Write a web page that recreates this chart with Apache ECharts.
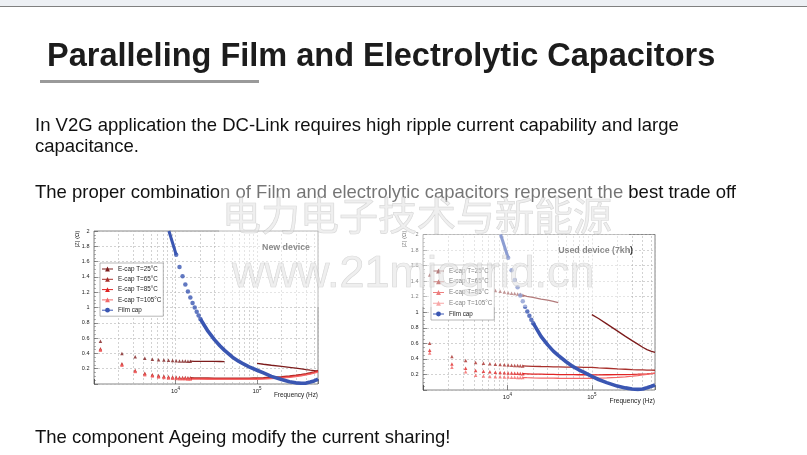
<!DOCTYPE html>
<html>
<head>
<meta charset="utf-8">
<script src="https://cdn.jsdelivr.net/npm/echarts/dist/echarts.min.js"></script>
<style>
html, body { margin: 0; padding: 0; background: #fff; }
#chart { width: 807px; height: 455px; }
</style>
</head>
<body>
<div id="chart"></div>
<script>
// frequencies in Hz
var freqLow = [1200, 2200, 3200, 4200, 5200, 6200, 7200, 8200, 9200, 10200, 11200, 12200, 13200, 14200, 15200];
var freqDense = [15200, 17000, 20000, 25000, 30000, 35000, 40000, 50000, 60000, 70000, 80000, 90000,
                 100000, 120000, 150000, 200000, 250000, 300000, 350000, 400000, 450000, 500000, 560000];
var filmTopF = [8300, 10200];
var filmDotsF = [10200, 11200, 12200, 13200, 14200, 15200, 16200, 17200, 18200, 19200, 20200];
var filmLineF = [20200, 25000, 30000, 35000, 40000, 50000, 60000, 70000, 80000, 100000, 120000, 150000,
                 200000, 250000, 300000, 350000, 400000, 450000, 500000, 560000];

// New device |Z| (ohm)
var new25Low = [0.56, 0.40, 0.355, 0.335, 0.325, 0.318, 0.313, 0.309, 0.306, 0.304, 0.302, 0.30, 0.30, 0.299, 0.298];
var new25Dense = [0.298, 0.297, 0.296, 0.295, 0.295, 0.294, 0.293, null, null, null, null, null,
                  0.27, 0.258, 0.245, 0.23, 0.218, 0.207, 0.197, 0.188, 0.181, 0.175, 0.168];
var new65Low = [0.46, 0.265, 0.178, 0.142, 0.122, 0.11, 0.10, 0.095, 0.09, 0.088, 0.086, 0.085, 0.084, 0.083, 0.082];
var new65Dense = [0.082, 0.081, 0.08, 0.079, 0.078, 0.078, 0.077, 0.077, 0.077, 0.077, 0.078, 0.079,
                  0.08, 0.083, 0.088, 0.097, 0.105, 0.115, 0.125, 0.135, 0.148, 0.16, 0.178];
var new85Low = [0.45, 0.255, 0.17, 0.132, 0.113, 0.10, 0.092, 0.086, 0.082, 0.079, 0.077, 0.075, 0.074, 0.073, 0.072];
var new85Dense = [0.072, 0.071, 0.07, 0.069, 0.068, 0.068, 0.067, 0.067, 0.067, 0.067, 0.067, 0.068,
                  0.07, 0.073, 0.078, 0.086, 0.095, 0.105, 0.115, 0.125, 0.137, 0.15, 0.165];
var new105Low = [0.44, 0.245, 0.162, 0.122, 0.103, 0.092, 0.084, 0.079, 0.075, 0.072, 0.07, 0.068, 0.067, 0.066, 0.065];
var new105Dense = [0.065, 0.064, 0.063, 0.062, 0.061, 0.061, 0.06, 0.06, 0.06, 0.06, 0.06, 0.061,
                   0.062, 0.065, 0.07, 0.078, 0.087, 0.097, 0.108, 0.118, 0.13, 0.143, 0.155];
var newFilmTop = [2.0, 1.69];
var newFilmDots = [1.69, 1.53, 1.41, 1.30, 1.21, 1.13, 1.06, 1.00, 0.945, 0.895, 0.85];
var newFilmLine = [0.85, 0.69, 0.58, 0.50, 0.44, 0.35, 0.295, 0.255, 0.225, 0.18, 0.145, 0.10,
                   0.058, 0.03, 0.015, 0.01, 0.012, 0.025, 0.04, 0.062];

// Used device (7kh) |Z| (ohm)
var used25Low = [1.48, 1.38, 1.34, 1.315, 1.30, 1.29, 1.28, 1.27, 1.26, 1.25, 1.245, 1.24, 1.235, 1.23, 1.22];
var used25Dense = [1.22, 1.205, 1.19, 1.17, 1.155, 1.14, 1.125, null, null, null, null, null,
                   0.97, 0.92, 0.85, 0.76, 0.69, 0.635, 0.59, 0.55, 0.52, 0.50, 0.485];
var used65Low = [0.60, 0.43, 0.38, 0.354, 0.345, 0.337, 0.332, 0.328, 0.324, 0.32, 0.318, 0.316, 0.314, 0.312, 0.31];
var used65Dense = [0.31, 0.308, 0.305, 0.302, 0.30, 0.298, 0.297, 0.295, 0.294, 0.293, 0.292, 0.291,
                   0.29, 0.285, 0.28, 0.272, 0.267, 0.263, 0.26, 0.258, 0.256, 0.255, 0.254];
var used85Low = [0.51, 0.336, 0.28, 0.25, 0.24, 0.234, 0.229, 0.225, 0.222, 0.22, 0.218, 0.216, 0.214, 0.212, 0.21];
var used85Dense = [0.21, 0.208, 0.205, 0.203, 0.201, 0.2, 0.199, 0.198, 0.197, 0.196, 0.196, 0.195,
                   0.195, 0.195, 0.196, 0.197, 0.199, 0.201, 0.203, 0.205, 0.207, 0.21, 0.213];
var used105Low = [0.476, 0.294, 0.234, 0.19, 0.18, 0.175, 0.172, 0.17, 0.168, 0.166, 0.164, 0.163, 0.162, 0.161, 0.16];
var used105Dense = [0.16, 0.158, 0.156, 0.154, 0.153, 0.152, 0.151, 0.15, 0.15, 0.15, 0.15, 0.15,
                    0.15, 0.152, 0.155, 0.162, 0.17, 0.178, 0.186, 0.194, 0.202, 0.21, 0.218];
var usedFilmTop = [2.0, 1.70];
var usedFilmDots = [1.70, 1.54, 1.415, 1.32, 1.215, 1.14, 1.07, 1.01, 0.955, 0.905, 0.86];
var usedFilmLine = [0.86, 0.69, 0.58, 0.50, 0.445, 0.36, 0.30, 0.26, 0.23, 0.175, 0.135, 0.095,
                    0.05, 0.027, 0.013, 0.008, 0.012, 0.028, 0.045, 0.065];

var seriesNames = ['E-cap T=25°C', 'E-cap T=65°C', 'E-cap T=85°C', 'E-cap T=105°C', 'Film cap'];
var seriesColors = ['#7d1c1c', '#a8302c', '#e02424', '#f26868', '#3a56b2'];

// axis ticks
var xTickValues = [10000, 100000];
var xTickExp = ['4', '5'];
var minorGrid = [2000, 3000, 4000, 5000, 6000, 7000, 8000, 9000,
                 20000, 30000, 40000, 50000, 60000, 70000, 80000, 90000,
                 200000, 300000, 400000, 500000];

function pairs(xs, ys) {
    return xs.map(function (x, i) { return [x, ys[i] == null ? '-' : ys[i]]; });
}

function chartSeries(g, ecaps, filmTop, filmDots, filmLine) {
    var out = [];
    ecaps.forEach(function (e, i) {
        out.push({
            name: seriesNames[i], type: 'line', xAxisIndex: g, yAxisIndex: g,
            data: pairs(freqDense, e[1]), symbol: 'triangle', symbolSize: 3.5, showSymbol: false,
            lineStyle: { color: seriesColors[i], width: 1.3 }, itemStyle: { color: seriesColors[i] }, z: 3
        });
        out.push({
            name: seriesNames[i], type: 'scatter', xAxisIndex: g, yAxisIndex: g,
            data: pairs(freqLow, e[0]), symbol: 'triangle', symbolSize: 3.5,
            itemStyle: { color: seriesColors[i] }, z: 3
        });
    });
    out.push({
        name: 'Film cap', type: 'line', xAxisIndex: g, yAxisIndex: g,
        data: pairs(filmLineF, filmLine), symbol: 'circle', symbolSize: 4, showSymbol: false,
        lineStyle: { color: seriesColors[4], width: 3.6 }, itemStyle: { color: seriesColors[4] }, z: 4,
        markLine: {
            silent: true, symbol: ['none', 'none'], label: { show: false }, animation: false, z: 1,
            lineStyle: { color: '#b4b4b4', width: 0.6, type: [2, 2] },
            data: minorGrid.map(function (v) { return { xAxis: v }; })
        }
    });
    out.push({
        name: 'Film cap', type: 'line', xAxisIndex: g, yAxisIndex: g,
        data: pairs(filmTopF, filmTop), showSymbol: false,
        lineStyle: { color: seriesColors[4], width: 3 }, itemStyle: { color: seriesColors[4] }, z: 4
    });
    out.push({
        name: 'Film cap', type: 'scatter', xAxisIndex: g, yAxisIndex: g,
        data: pairs(filmDotsF, filmDots), symbol: 'circle', symbolSize: 4.5,
        itemStyle: { color: seriesColors[4] }, z: 4
    });
    return out;
}

var series = chartSeries(0, [[new25Low, new25Dense], [new65Low, new65Dense], [new85Low, new85Dense], [new105Low, new105Dense]],
                         newFilmTop, newFilmDots, newFilmLine)
    .concat(chartSeries(1, [[used25Low, used25Dense], [used65Low, used65Dense], [used85Low, used85Dense], [used105Low, used105Dense]],
                        usedFilmTop, usedFilmDots, usedFilmLine));

function xLabel(v) {
    for (var i = 0; i < xTickValues.length; i++) {
        if (Math.abs(v / xTickValues[i] - 1) < 1e-6) return '{b|10}{s|' + xTickExp[i] + '}';
    }
    return '';
}

function makeX(g) {
    return {
        type: 'log', logBase: 10, gridIndex: g, min: 1000, max: 560000,
        axisLine: { show: false },
        axisTick: { inside: true, length: 5, lineStyle: { color: '#444', width: 0.6 } },
        axisLabel: {
            margin: 2, color: '#222', formatter: xLabel,
            rich: {
                b: { fontSize: 6, lineHeight: 8, verticalAlign: 'bottom', color: '#222' },
                s: { fontSize: 4.5, lineHeight: 5, verticalAlign: 'top', color: '#222' }
            }
        },
        splitLine: { show: true, lineStyle: { color: '#b4b4b4', width: 0.6, type: [2, 2] } }
    };
}

function makeY(g) {
    return {
        type: 'value', gridIndex: g, min: 0, max: 2, interval: 0.2,
        axisLine: { show: false },
        axisTick: { inside: true, length: 4, lineStyle: { color: '#444', width: 0.6 } },
        minorTick: { show: true, splitNumber: 4, length: 2, lineStyle: { color: '#666', width: 0.5 } },
        axisLabel: {
            fontSize: 5.5, color: '#222', margin: 4.5,
            formatter: function (v) { return v === 0 ? '' : String(+v.toFixed(1)); }
        },
        splitLine: { show: true, lineStyle: { color: '#b4b4b4', width: 0.6, type: [2, 2] } }
    };
}

function makeLegend(left, top, gap) {
    return {
        data: seriesNames, orient: 'vertical', left: left, top: top,
        itemWidth: 11, itemHeight: 6, itemGap: gap, itemTextGap: 4,
        padding: [3, 2, 3, 1.5], backgroundColor: '#fff', borderColor: '#888', borderWidth: 0.6,
        borderRadius: 0, selectedMode: false,
        lineStyle: { width: 1 },
        textStyle: { fontSize: 6.3, lineHeight: 6, color: '#222', fontFamily: 'Liberation Sans, Arial' }
    };
}

var FONT = "'Liberation Sans', Arial, sans-serif";

function txt(text, x, y, size, opts) {
    opts = opts || {};
    return {
        type: 'text', x: x, y: y, rotation: opts.rotation || 0, z: opts.z || 10, silent: true,
        style: {
            text: text, fill: opts.fill || '#111', align: opts.align || 'left', verticalAlign: 'middle',
            font: (opts.weight || 'normal') + ' ' + size + 'px ' + (opts.family || FONT),
            stroke: opts.stroke, lineWidth: opts.lineWidth || 0
        }
    };
}

var myChart = echarts.init(document.getElementById('chart'));
var option = {
    animation: false,
    backgroundColor: '#fff',
    textStyle: { fontFamily: FONT },
    grid: [
        { left: 94, top: 231, width: 224, height: 153, show: true, borderColor: '#555', borderWidth: 0.7 },
        { left: 423, top: 234.5, width: 232, height: 155.5, show: true, borderColor: '#555', borderWidth: 0.7 }
    ],
    xAxis: [makeX(0), makeX(1)],
    yAxis: [makeY(0), makeY(1)],
    legend: [makeLegend(100, 263, 4.3), makeLegend(431, 265, 4.75)],
    series: series,
    graphic: [
        { type: 'rect', shape: { x: 0, y: 0, width: 807, height: 6 }, style: { fill: '#edf0f4' }, silent: true },
        { type: 'rect', shape: { x: 0, y: 6, width: 807, height: 1 }, style: { fill: '#808080' }, silent: true },
        txt('Paralleling Film and Electrolytic Capacitors', 47, 57.5, 32.5, { weight: 'bold', fill: '#1c1c1c' }),
        { type: 'rect', shape: { x: 40, y: 80, width: 219, height: 3 }, style: { fill: '#9a9a9a' }, silent: true },
        txt('In V2G application the DC-Link requires high ripple current capability and large', 35, 126.4, 18.5),
        txt('capacitance.', 35, 147.4, 18.5),
        txt('The proper combination of Film and electrolytic capacitors represent the best trade off', 35, 193.4, 18.5),
        txt('The component Ageing modify the current sharing!', 35, 438, 18.5),
        // chart annotations
        txt('|Z| (Ω)', 77.3, 239, 6, { rotation: Math.PI / 2, align: 'center', fill: '#222' }),
        txt('New device', 310, 247.3, 8.8, { weight: 'bold', fill: '#333', align: 'right' }),
        txt('Frequency (Hz)', 318, 395, 6.4, { align: 'right', fill: '#222' }),
        txt('|Z| (Ω)', 404, 239, 6, { rotation: Math.PI / 2, align: 'center', fill: '#222' }),
        txt('Used device (7kh)', 633, 250.5, 8.8, { weight: 'bold', fill: '#333', align: 'right' }),
        txt('Frequency (Hz)', 655, 401, 6.6, { align: 'right', fill: '#222' }),
        // watermark
        { type: 'rect', z: 90, silent: true, shape: { x: 219, y: 179, width: 410, height: 128 },
          style: { fill: 'rgba(255,255,255,0.42)' } },
        txt('电力电子技术与新能源', 222, 215, 39, { family: "'Noto Sans CJK SC', sans-serif", fill: 'rgba(225,225,225,0.55)',
            stroke: 'rgba(165,165,165,0.45)', lineWidth: 0.7, z: 95 }),
        txt('www.21micgrid.cn', 232, 275, 45, { fill: 'rgba(225,225,225,0.55)', stroke: 'rgba(165,165,165,0.45)', lineWidth: 0.7, z: 95 })
    ]
};
myChart.setOption(option);
</script>
</body>
</html>
